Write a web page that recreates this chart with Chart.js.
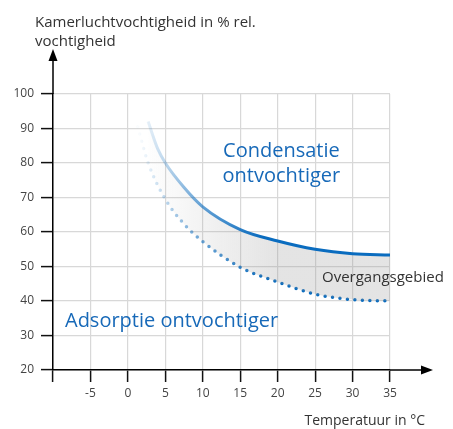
<!DOCTYPE html>
<html>
<head>
<meta charset="utf-8">
<script src="https://cdn.jsdelivr.net/npm/chart.js@4.4.0/dist/chart.umd.min.js"></script>
<style>
html, body { margin: 0; padding: 0; background: #fff; }
</style>
</head>
<body>
<canvas id="chart" width="453" height="429"></canvas>
<script>
// condensatie ontvochtiger (bovengrens, doorgetrokken lijn)
var temp_cond = [2.7, 4, 5, 7.5, 10, 15, 20, 25, 30, 35];
var rv_cond = [92, 84, 80, 72.9, 67.3, 60.7, 57.4, 55, 53.7, 53.3];
// adsorptie ontvochtiger (ondergrens, gestippelde lijn)
var temp_ads = [1.3, 2.7, 5, 7.5, 10, 15, 20, 25, 30, 35];
var rv_ads = [90.5, 80, 69.5, 62.3, 57.2, 49.8, 45.5, 42, 40.4, 40];

var x_ticks = [-10, -5, 0, 5, 10, 15, 20, 25, 30, 35];
var y_ticks = [20, 30, 40, 50, 60, 70, 80, 90, 100];

var blue = '#0a6cbf';
var font = '"Open Sans", "Noto Sans", sans-serif';

var toPoints = (xs, ys) => xs.map((x, i) => ({ x: x, y: ys[i] }));

var lineGradient = (ctx) => {
	var chart = ctx.chart;
	if (!chart.chartArea) return blue;
	var xs = chart.scales.x;
	var g = chart.ctx.createLinearGradient(xs.getPixelForValue(1.5), 0, xs.getPixelForValue(18), 0);
	g.addColorStop(0, 'rgba(10,108,191,0.02)');
	g.addColorStop(0.22, 'rgba(10,108,191,0.28)');
	g.addColorStop(0.5, 'rgba(10,108,191,0.62)');
	g.addColorStop(1, 'rgba(10,108,191,1)');
	return g;
};

var fillGradient = (ctx) => {
	var chart = ctx.chart;
	if (!chart.chartArea) return 'rgba(150,150,150,0.25)';
	var xs = chart.scales.x;
	var g = chart.ctx.createLinearGradient(xs.getPixelForValue(2), 0, xs.getPixelForValue(20), 0);
	g.addColorStop(0, 'rgba(150,150,150,0)');
	g.addColorStop(1, 'rgba(150,150,150,0.26)');
	return g;
};

// pijlen aan de assen + teksten
var decor = {
	id: 'decor',
	afterDraw: (chart) => {
		var c = chart.ctx;
		var a = chart.chartArea;
		c.save();
		c.strokeStyle = '#000';
		c.fillStyle = '#000';
		c.lineWidth = 1.5;
		c.beginPath();
		c.moveTo(a.left, a.top);
		c.lineTo(a.left, 58);
		c.moveTo(a.right, a.bottom);
		c.lineTo(424, a.bottom);
		c.stroke();
		c.beginPath();
		c.moveTo(a.left, 49);
		c.lineTo(a.left - 4.5, 61);
		c.lineTo(a.left + 4.5, 61);
		c.closePath();
		c.fill();
		c.beginPath();
		c.moveTo(433, a.bottom);
		c.lineTo(421, a.bottom - 4.5);
		c.lineTo(421, a.bottom + 4.5);
		c.closePath();
		c.fill();

		var xs = chart.scales.x, ys = chart.scales.y;
		c.textBaseline = 'alphabetic';
		c.fillStyle = '#333';
		c.font = '15px ' + font;
		c.textAlign = 'left';
		c.fillText('Kamerluchtvochtigheid in % rel.', a.left - 18, 27);
		c.fillText('vochtigheid', a.left - 18, 46);
		c.textAlign = 'left';
		c.fillText('Overgangsgebied', 322, 282);
		c.font = '14px ' + font;
		c.textAlign = 'right';
		c.fillText('Temperatuur in °C', 425, 425);

		c.fillStyle = '#1769b8';
		c.font = '20px ' + font;
		c.textAlign = 'center';
		c.fillText('Condensatie', xs.getPixelForValue(20.5), ys.getPixelForValue(81.8));
		c.fillText('ontvochtiger', xs.getPixelForValue(20.5), ys.getPixelForValue(74.6));
		c.textAlign = 'left';
		c.fillText('Adsorptie ontvochtiger', xs.getPixelForValue(-8.4), ys.getPixelForValue(32.5));
		c.restore();
	}
};

var ctx = document.getElementById('chart').getContext('2d');
var chart = new Chart(ctx, {
	type: 'line',
	data: {
		datasets: [
			{
				label: 'Condensatie ontvochtiger',
				data: toPoints(temp_cond, rv_cond),
				borderColor: lineGradient,
				borderWidth: 3,
				backgroundColor: fillGradient,
				fill: 1,
				pointRadius: 0,
				cubicInterpolationMode: 'monotone'
			},
			{
				label: 'Adsorptie ontvochtiger',
				data: toPoints(temp_ads, rv_ads),
				borderColor: lineGradient,
				borderWidth: 3.5,
				borderDash: [0, 7.5],
				borderCapStyle: 'round',
				fill: false,
				pointRadius: 0,
				cubicInterpolationMode: 'monotone'
			}
		]
	},
	options: {
		responsive: false,
		animation: false,
		layout: { padding: { top: 94, right: 63, bottom: 0, left: 0 } },
		plugins: {
			legend: { display: false },
			tooltip: { enabled: false }
		},
		scales: {
			x: {
				type: 'linear',
				min: -10,
				max: 35,
				afterBuildTicks: (s) => { s.ticks = x_ticks.map(v => ({ value: v })); },
				afterFit: (s) => { s.height = 59; },
				grid: { color: '#d8d8d8', lineWidth: 1.2, tickColor: '#111', tickLength: 12, tickWidth: 1.5 },
				border: { color: '#000', width: 1.5 },
				ticks: {
					color: '#444',
					font: { family: font, size: 12 },
					padding: 4,
					maxRotation: 0,
					callback: (v) => v == -10 ? '' : v
				}
			},
			y: {
				min: 20,
				max: 100,
				afterBuildTicks: (s) => { s.ticks = y_ticks.map(v => ({ value: v })); },
				afterFit: (s) => { s.width = 53; },
				grid: { color: '#d8d8d8', lineWidth: 1.2, tickColor: '#111', tickLength: 12, tickWidth: 1.5 },
				border: { color: '#000', width: 1.5 },
				ticks: {
					color: '#444',
					font: { family: font, size: 12 },
					padding: 7
				}
			}
		}
	},
	plugins: [decor]
});
</script>
</body>
</html>
